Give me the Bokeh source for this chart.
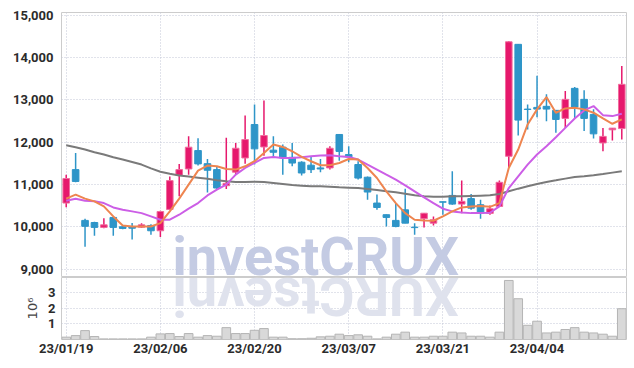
import math
from bokeh.plotting import figure
from bokeh.layouts import column
from bokeh.models import FixedTicker, NumeralTickFormatter, Range1d
from bokeh.embed import file_html
from bokeh.resources import INLINE
from bokeh.core.properties import value

dates = ["23/01/19", "23/01/20", "23/01/25", "23/01/26", "23/01/27", "23/01/30", "23/01/31", "23/02/01", "23/02/02", "23/02/03",
         "23/02/06", "23/02/07", "23/02/08", "23/02/09", "23/02/10", "23/02/13", "23/02/14", "23/02/15", "23/02/16", "23/02/17",
         "23/02/20", "23/02/21", "23/02/22", "23/02/23", "23/02/24", "23/02/27", "23/02/28", "23/03/02", "23/03/03", "23/03/06",
         "23/03/07", "23/03/08", "23/03/09", "23/03/10", "23/03/13", "23/03/14", "23/03/15", "23/03/16", "23/03/17", "23/03/20",
         "23/03/21", "23/03/22", "23/03/23", "23/03/24", "23/03/27", "23/03/28", "23/03/29", "23/03/30", "23/03/31", "23/04/03",
         "23/04/04", "23/04/05", "23/04/06", "23/04/07", "23/04/10", "23/04/11", "23/04/12", "23/04/13", "23/04/14", "23/04/17"]

tick_labels = ["23/01/19", "23/02/06", "23/02/20", "23/03/07", "23/03/21", "23/04/04"]

opens = [10560, 11350, 10150, 10100, 9985, 10220, 10000, 10005, 9990, 10030,
         9905, 10410, 11215, 11365, 11800, 11490, 11350, 10970, 11290, 11625,
         12415, 11885, 11810, 11880, 11640, 11525, 11455, 11390, 11390, 12180,
         11705, 11470, 11170, 10560, 10285, 10150, 10400, 9990, 10190, 10085,
         10590, 10740, 10535, 10665, 10520, 10315, 10480, 11665, 14310, 12780,
         12820, 12845, 12750, 12560, 13270, 13010, 12655, 11980, 12290, 12320]
highs = [11230, 11740, 10190, 10120, 10200, 10225, 10020, 10090, 10080, 10060,
         10380, 11190, 11485, 12140, 12090, 11600, 11430, 12100, 11980, 12630,
         12890, 12985, 12140, 11945, 11980, 11550, 11665, 11600, 11900, 12190,
         11900, 11550, 11190, 10760, 10290, 10560, 10900, 10085, 10325, 10245,
         10590, 11310, 11090, 10775, 10640, 10505, 11090, 14380, 14320, 12890,
         13570, 13130, 12760, 13205, 13300, 13225, 12775, 12335, 12335, 13800]
lows = [10460, 11050, 9530, 9790, 9965, 9790, 9940, 9700, 9970, 9810,
        9755, 10400, 10720, 11230, 11450, 10810, 10890, 10890, 11230, 11490,
        11470, 11680, 11625, 11230, 11430, 11210, 11270, 11290, 11350, 11560,
        11525, 11115, 10640, 10400, 10005, 9990, 10080, 9810, 9985, 10030,
        10285, 10520, 10320, 10400, 10190, 10285, 10470, 11390, 12155, 12300,
        12590, 12495, 12220, 12335, 12560, 12260, 12085, 11785, 12040, 12060]
closes = [11140, 11070, 10010, 9985, 10045, 9985, 9960, 9965, 10045, 9905,
          10360, 11090, 11350, 11880, 11485, 11335, 10915, 11025, 11855, 12060,
          11840, 12155, 11760, 11625, 11505, 11270, 11350, 11365, 11855, 11780,
          11650, 11150, 10820, 10455, 10220, 10005, 10085, 9980, 10320, 10165,
          10580, 10535, 10600, 10440, 10320, 10425, 11050, 14370, 12520, 12770,
          12780, 12780, 12535, 13010, 12830, 12560, 12195, 12135, 12330, 13365]

ma5 = [10664, 10758, 10664, 10600, 10481, 10244, 10031, 10007, 10007, 10007,
       10085, 10363, 10664, 10995, 11327, 11446, 11429, 11365, 11351, 11429,
       11548, 11745, 11943, 11886, 11784, 11649, 11548, 11453, 11453, 11507,
       11600, 11588, 11389, 11152, 10837, 10559, 10322, 10166, 10149, 10142,
       10244, 10363, 10457, 10481, 10490, 10470, 10559, 11389, 11824, 12417,
       12773, 13064, 12694, 12796, 12811, 12773, 12694, 12559, 12433, 12536]
ma10 = [10616, 10664, 10616, 10600, 10559, 10457, 10403, 10363, 10322, 10244,
        10166, 10166, 10284, 10427, 10559, 10740, 10877, 10995, 11232, 11389,
        11507, 11626, 11649, 11626, 11626, 11640, 11666, 11682, 11690, 11666,
        11646, 11588, 11469, 11351, 11232, 11114, 10979, 10837, 10694, 10559,
        10427, 10363, 10339, 10322, 10322, 10330, 10481, 10915, 11192, 11469,
        11706, 11903, 12116, 12337, 12559, 12749, 12851, 12637, 12614, 12670]
ma60 = [11926, 11879, 11824, 11761, 11706, 11642, 11588, 11531, 11469, 11380,
        11300, 11250, 11210, 11185, 11160, 11133, 11097, 11073, 11058, 11058,
        11066, 11058, 11034, 11010, 10986, 10971, 10955, 10955, 10947, 10931,
        10923, 10915, 10892, 10868, 10837, 10813, 10782, 10742, 10718, 10711,
        10711, 10718, 10718, 10726, 10734, 10742, 10773, 10837, 10900, 10955,
        11010, 11058, 11097, 11137, 11176, 11192, 11216, 11247, 11279, 11310]

# volume in millions of shares
volume = [0.15, 0.25, 0.57, 0.19, 0.04, 0.04, 0.04, 0.04, 0.04, 0.15,
          0.36, 0.38, 0.19, 0.38, 0.15, 0.25, 0.21, 0.76, 0.38, 0.38,
          0.59, 0.70, 0.15, 0.15, 0.05, 0.05, 0.08, 0.17, 0.21, 0.34,
          0.25, 0.30, 0.21, 0.04, 0.15, 0.34, 0.47, 0.15, 0.15, 0.21,
          0.21, 0.47, 0.42, 0.21, 0.21, 0.15, 0.47, 3.78, 2.61, 0.91,
          1.17, 0.42, 0.47, 0.64, 0.76, 0.47, 0.42, 0.34, 0.21, 1.97]

price_ticks = [9000, 10000, 11000, 12000, 13000, 14000, 15000]
vol_ticks = [1, 2, 3]

UP = "#e6186c"
UP_EDGE = "#f06c9e"
DOWN = "#2e95c8"
GRID = "#c3c6d6"
FRAME = "#cccccc"
TICK_FONT = "Roboto"

n = len(dates)
xs = list(range(n))
tick_idx = [dates.index(t) for t in tick_labels]
colors = [UP if c >= o else DOWN for o, c in zip(opens, closes)]
edges = [UP_EDGE if c >= o else DOWN for o, c in zip(opens, closes)]
tops = [max(o, c) for o, c in zip(opens, closes)]
bottoms = [min(o, c) for o, c in zip(opens, closes)]

xr = Range1d(-0.5, n - 0.5)

p = figure(width=627, height=277, x_range=xr, y_range=Range1d(8801, 15062),
           output_backend="svg", toolbar_location=None,
           min_border_left=61, min_border_right=1, min_border_top=12, min_border_bottom=0)
pv = figure(width=627, height=86, x_range=xr, y_range=Range1d(0, 3.97),
            output_backend="svg", toolbar_location=None,
            min_border_left=61, min_border_right=1, min_border_top=0, min_border_bottom=24)

for f in (p, pv):
    f.outline_line_color = FRAME
    f.background_fill_color = "white"
    f.border_fill_color = "white"
    f.xgrid.ticker = FixedTicker(ticks=tick_idx)
    for g in (f.xgrid, f.ygrid):
        g.grid_line_color = GRID
        g.grid_line_dash = "1 2"
        g.grid_line_width = 1
    for ax in f.yaxis:
        ax.axis_line_color = None
        ax.major_tick_line_color = None
        ax.minor_tick_line_color = None
        ax.major_tick_out = 0
        ax.major_tick_in = 0
        ax.minor_tick_out = 0
        ax.major_label_text_font = TICK_FONT
        ax.major_label_text_font_size = "13px"
        ax.major_label_text_font_style = "bold"
        ax.major_label_text_color = "#2b2b2b"

p.xaxis.visible = False
p.yaxis.ticker = FixedTicker(ticks=price_ticks)
p.yaxis.formatter = NumeralTickFormatter(format="0,0")
p.yaxis.major_label_standoff = 8
p.ygrid.ticker = FixedTicker(ticks=price_ticks)

pv.yaxis.ticker = FixedTicker(ticks=vol_ticks)
pv.ygrid.ticker = FixedTicker(ticks=vol_ticks)
pv.yaxis.major_label_standoff = 6
pv.yaxis.axis_label = "10⁶"
pv.yaxis.axis_label_text_font = "DejaVu Sans"
pv.yaxis.axis_label_text_font_size = "13px"
pv.yaxis.axis_label_text_font_style = "normal"
pv.yaxis.axis_label_text_color = "#444444"
pv.yaxis.axis_label_standoff = 5

pv.xaxis.ticker = FixedTicker(ticks=tick_idx)
pv.xaxis.major_label_overrides = {i: dates[i] for i in tick_idx}
pv.xaxis.axis_line_color = None
pv.xaxis.major_tick_line_color = None
pv.xaxis.minor_tick_line_color = None
pv.xaxis.major_tick_out = 0
pv.xaxis.major_tick_in = 0
pv.xaxis.minor_tick_out = 0
pv.xaxis.major_label_standoff = 1
pv.xaxis.major_label_text_font = TICK_FONT
pv.xaxis.major_label_text_font_size = "13px"
pv.xaxis.major_label_text_font_style = "bold"
pv.xaxis.major_label_text_color = "#2b2b2b"

# watermark and its mirrored reflection (anchored at the text's middle)
WM_X = 26.5
WM_MID = 9298
REFL_MID = 2.76
p.text(x=[WM_X], y=[WM_MID], text=["investCRUX"], text_font=value("Roboto"),
       text_font_style="bold", text_font_size="54px", text_color="#c4cbe3",
       text_align="center", text_baseline="middle")
pv.text(x=[WM_X], y=[REFL_MID], text=["investCRUX"[::-1]], angle=math.pi,
        text_font=value("Roboto"), text_font_style="bold", text_font_size="54px",
        text_color="#dfe2ed", text_align="center", text_baseline="middle")

# candles
p.segment(x0=xs, y0=lows, x1=xs, y1=highs, line_color=colors, line_width=1.5)
p.vbar(x=xs, width=0.7, top=tops, bottom=bottoms, fill_color=colors, line_color=edges, line_width=1)

# moving averages
p.line(xs, ma60, line_color="#7a7a7a", line_width=2)
p.line(xs, ma10, line_color="#cc5ee6", line_width=2)
p.line(xs, ma5, line_color="#ee8550", line_width=2)

# volume
pv.vbar(x=xs, width=0.92, top=volume, bottom=0, fill_color="#d9d9d9", line_color="#b4b4b4", line_width=1)

layout = column(p, pv, spacing=0)
open("out.html", "w").write(file_html(layout, INLINE))
